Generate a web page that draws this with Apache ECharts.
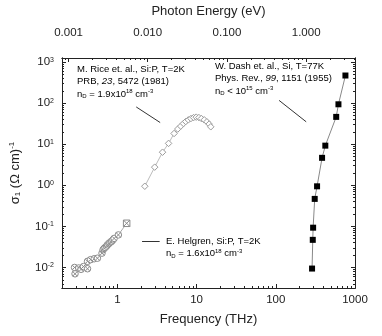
<!DOCTYPE html>
<html>
<head>
<meta charset="utf-8">
<script src="https://cdn.jsdelivr.net/npm/echarts@6/dist/echarts.min.js"></script>
<style>
  html, body { margin: 0; padding: 0; background: #fff; }
  #chart { width: 382px; height: 336px; }
</style>
</head>
<body>
<div id="chart"></div>
<script>
// axis ticks (real values)
var freqTicks = [1, 10, 100, 1000];
var energyTicks = [0.001, 0.01, 0.1, 1];
var sigmaTicks = [0.01, 0.1, 1, 10, 100, 1000];
var freqRange = [0.2, 1000];
var sigmaRange = [0.00316, 1260];
var THZ_TO_EV = 0.0041357;

// E. Helgren, Si:P (THz, (Ohm cm)^-1)
var helgrenFreq = [0.288, 0.292, 0.325, 0.348, 0.373, 0.42, 0.42, 0.46, 0.51, 0.56, 0.64, 0.66, 0.68, 0.70, 0.73, 0.75, 0.78, 0.80, 0.83, 0.85, 0.88, 0.91, 1.03, 1.31];
var helgrenSigma = [0.0100, 0.0070, 0.0097, 0.0090, 0.0105, 0.0093, 0.0141, 0.0155, 0.0163, 0.0168, 0.0223, 0.027, 0.029, 0.0306, 0.033, 0.0355, 0.038, 0.040, 0.042, 0.044, 0.047, 0.051, 0.062, 0.119];

// M. Rice et al., Si:P
var riceFreq = [2.22, 2.96, 3.72, 4.43, 5.2, 5.79, 6.31, 6.82, 7.29, 7.87, 8.49, 9.17, 9.9, 10.7, 11.5, 12.5, 13.5, 14.4, 15.1];
var riceSigma = [0.95, 2.77, 6.4, 10.5, 18.3, 23.5, 27.6, 32, 35.7, 39.3, 42.3, 44.7, 45.7, 44.7, 42.3, 39.3, 35.2, 31, 26.6];

// W. Dash et al., Si
var dashFreq = [287, 293, 296, 310, 332, 384, 422, 579, 618, 757];
var dashSigma = [0.0094, 0.047, 0.093, 0.467, 0.946, 4.67, 9.25, 46.4, 94, 472];

// annotation arrows [from, to] in (THz, sigma)
var riceArrow = [[1.73, 81], [3.47, 33.8]];
var dashArrow = [[110, 117], [242, 35.2]];
var helgrenArrow = [[3.42, 0.0427], [2.05, 0.0427]];

var lg = Math.log10;
function pairs(xs, ys) {
  return xs.map(function (x, i) { return [lg(x), lg(ys[i])]; });
}
function minors(lo, hi) {
  var out = [];
  for (var e = -4; e <= 3; e++) {
    for (var k = 2; k <= 9; k++) {
      var v = lg(k) + e;
      if (v > lo + 1e-6 && v < hi - 1e-6) out.push(v);
    }
  }
  return out;
}
function arrow(a) {
  return [{ coord: [lg(a[0][0]), lg(a[0][1])] }, { coord: [lg(a[1][0]), lg(a[1][1])] }];
}

var fxMin = lg(freqRange[0]), fxMax = lg(freqRange[1]);
var exMin = lg(freqRange[0] * THZ_TO_EV), exMax = lg(freqRange[1] * THZ_TO_EV);
var syMin = lg(sigmaRange[0]), syMax = lg(sigmaRange[1]);

var font = '"Liberation Sans", Arial, sans-serif';
var ink = '#222';

function axisBase(min, max, pos, majors, len, label) {
  return {
    type: 'value', min: min, max: max, position: pos,
    axisLine: { show: true, onZero: false, lineStyle: { color: ink, width: 1 } },
    axisTick: { show: true, inside: true, length: len, customValues: majors, lineStyle: { color: ink, width: 1 } },
    axisLabel: label || { show: false },
    splitLine: { show: false }
  };
}

var chart = echarts.init(document.getElementById('chart'), null, { renderer: 'canvas' });

var supRich = {
  b: { fontSize: 11.5, fontFamily: font, color: ink },
  s: { fontSize: 7, fontFamily: font, color: ink, verticalAlign: 'top', padding: [0, 0, 5, 0] }
};
var noteRich = {
  n: { fontSize: 9.5, fontFamily: font, color: ink },
  i: { fontSize: 9.5, fontFamily: font, fontStyle: 'italic', color: ink },
  sub: { fontSize: 6, fontFamily: font, color: ink, verticalAlign: 'bottom', padding: [4, 0, 0, 0] },
  sup: { fontSize: 6, fontFamily: font, color: ink, verticalAlign: 'top', padding: [0, 0, 5, 0] }
};
function note(x, y, text) {
  return { type: 'text', x: x, y: y, style: { text: text, verticalAlign: 'middle', rich: noteRich } };
}

chart.setOption({
  animation: false,
  grid: { left: 60, right: 27, top: 57, bottom: 48 },
  xAxis: [
    Object.assign(axisBase(fxMin, fxMax, 'bottom', freqTicks.map(lg), 4, {
      show: true, customValues: freqTicks.map(lg), margin: 6,
      fontSize: 11.5, fontFamily: font, color: ink,
      formatter: function (v) { return String(Math.round(Math.pow(10, v))); }
    }), {
      name: 'Frequency (THz)', nameLocation: 'middle', nameGap: 25,
      nameTextStyle: { fontSize: 13, fontFamily: font, color: ink }
    }),
    axisBase(fxMin, fxMax, 'bottom', minors(fxMin, fxMax), 2),
    Object.assign(axisBase(exMin, exMax, 'top', energyTicks.map(lg), 4, {
      show: true, customValues: energyTicks.map(lg), margin: 19,
      fontSize: 11.5, fontFamily: font, color: ink,
      formatter: function (v) { return Math.pow(10, v).toFixed(3); }
    }), {
      name: 'Photon Energy (eV)', nameLocation: 'middle', nameGap: 40,
      nameTextStyle: { fontSize: 13, fontFamily: font, color: ink }
    }),
    axisBase(exMin, exMax, 'top', minors(exMin, exMax), 2)
  ],
  yAxis: [
    Object.assign(axisBase(syMin, syMax, 'left', sigmaTicks.map(lg), 4, {
      show: true, customValues: sigmaTicks.map(lg), margin: 8,
      rich: supRich,
      formatter: function (v) { return '{b|10}{s|' + Math.round(v) + '}'; }
    }), {
      name: '{b|σ}{sub|1}{b| (Ω cm)}{sup|-1}', nameLocation: 'middle', nameGap: 40, nameRotate: 90,
      nameTextStyle: {
        rich: {
          b: { fontSize: 13, fontFamily: font, color: ink },
          sub: { fontSize: 8, fontFamily: font, color: ink, verticalAlign: 'bottom', padding: [4, 0, 0, 0] },
          sup: { fontSize: 8, fontFamily: font, color: ink, verticalAlign: 'top', padding: [0, 0, 6, 0] }
        }
      }
    }),
    axisBase(syMin, syMax, 'left', minors(syMin, syMax), 2),
    axisBase(syMin, syMax, 'right', sigmaTicks.map(lg), 4),
    axisBase(syMin, syMax, 'right', minors(syMin, syMax), 2)
  ],
  series: [
    {
      name: 'Helgren', type: 'line', xAxisIndex: 0, yAxisIndex: 0,
      data: pairs(helgrenFreq, helgrenSigma).map(function (p, i, arr) {
        if (i === arr.length - 1) {
          return { value: p, symbol: 'path://M0,0 L10,0 L10,10 L0,10 Z M0,0 L10,10 M10,0 L0,10' };
        }
        return p;
      }),
      symbol: 'path://M0,5 A5,5 0 1,1 10,5 A5,5 0 1,1 0,5 Z M1.5,1.5 L8.5,8.5 M8.5,1.5 L1.5,8.5',
      symbolSize: 6.5,
      itemStyle: { color: '#fff', borderColor: '#8a8a8a', borderWidth: 1 },
      lineStyle: { color: '#aaa', width: 1 },
      markLine: {
        silent: true, symbol: ['none', 'arrow'], symbolSize: [0, 6],
        label: { show: false },
        lineStyle: { color: '#333', width: 1, type: 'solid' },
        data: [arrow(helgrenArrow), arrow(riceArrow), arrow(dashArrow)]
      }
    },
    {
      name: 'Rice', type: 'line', xAxisIndex: 0, yAxisIndex: 0,
      data: pairs(riceFreq, riceSigma),
      symbol: 'diamond', symbolSize: 6.5,
      itemStyle: { color: '#fff', borderColor: '#9a9a9a', borderWidth: 1 },
      lineStyle: { color: '#bbb', width: 1 }
    },
    {
      name: 'Dash', type: 'line', xAxisIndex: 0, yAxisIndex: 0,
      data: pairs(dashFreq, dashSigma),
      symbol: 'rect', symbolSize: 6,
      itemStyle: { color: '#000' },
      lineStyle: { color: '#888', width: 1 }
    }
  ],
  graphic: [
    note(77, 69, '{n|M. Rice et. al., Si:P, T=2K}'),
    note(77, 81.5, '{n|PRB, }{i|23}{n|, 5472 (1981)}'),
    note(77, 94, '{n|n}{sub|D}{n| = 1.9x10}{sup|18}{n| cm}{sup|-3}'),
    note(215, 66, '{n|W. Dash et. al., Si, T=77K}'),
    note(215, 78.5, '{n|Phys. Rev., }{i|99}{n|, 1151 (1955)}'),
    note(215, 91, '{n|n}{sub|D}{n| < 10}{sup|15}{n| cm}{sup|-3}'),
    note(166, 241, '{n|E. Helgren, Si:P, T=2K}'),
    note(166, 253.5, '{n|n}{sub|D}{n| = 1.6x10}{sup|18}{n| cm}{sup|-3}')
  ]
});
</script>
</body>
</html>
